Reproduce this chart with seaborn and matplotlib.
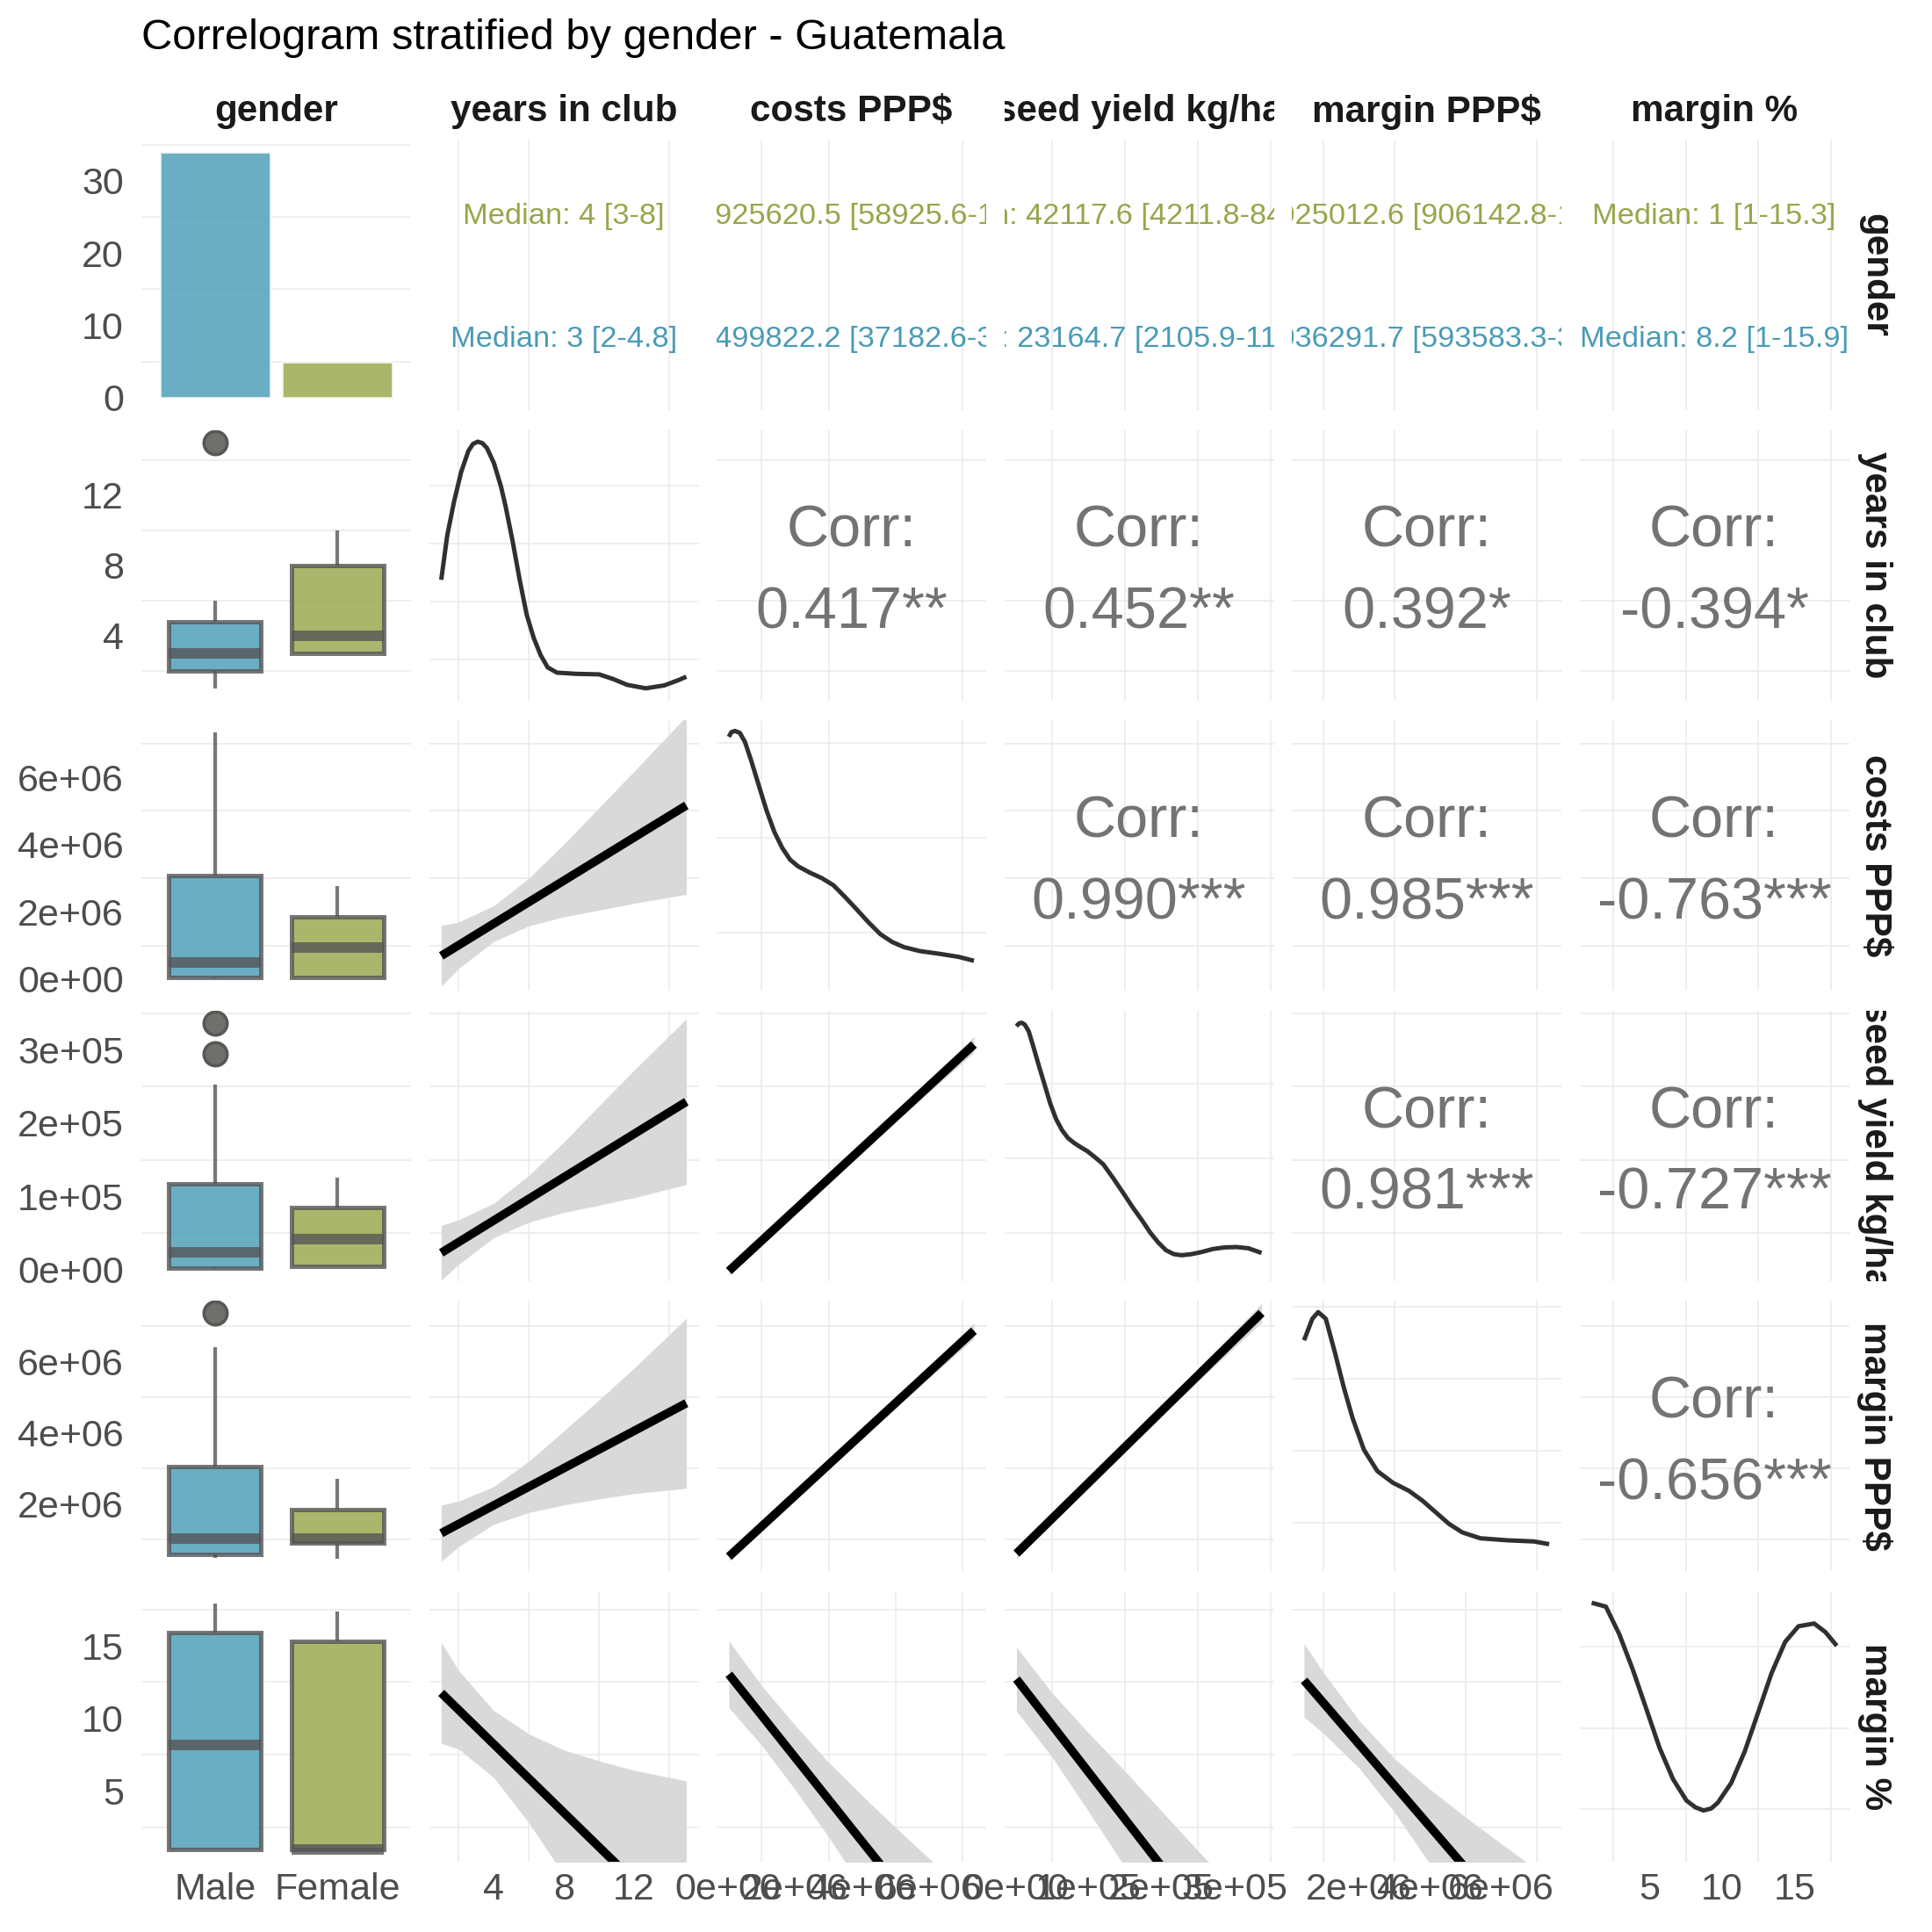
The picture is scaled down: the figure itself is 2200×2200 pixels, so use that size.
import matplotlib
matplotlib.use("Agg")
import matplotlib.pyplot as plt
import matplotlib.transforms as mtransforms
from matplotlib.ticker import MultipleLocator, NullLocator
import numpy as np
import seaborn as sns

# ------------------------------------------------------------------ data
TITLE = "Correlogram stratified by gender - Guatemala"
VAR_LABELS = ["gender", "years in club", "costs PPP$", "seed yield kg/ha",
              "margin PPP$", "margin %"]
GENDERS = ["Male", "Female"]
GENDER_COUNTS = [34, 5]

# continuous variables: years, costs, seed, margin PPP, margin %
VAR_MIN = [1, 18500, 1000, 450000, 1]
VAR_MAX = [15, 7330000, 337000, 7360000, 17.9]

COUNT_TICKS = [0, 10, 20, 30]
TICK_VALUES = [[4, 8, 12],
               [0, 2e6, 4e6, 6e6],
               [0, 1e5, 2e5, 3e5],
               [2e6, 4e6, 6e6],
               [5, 10, 15]]
TICK_LABELS = [["4", "8", "12"],
               ["0e+00", "2e+06", "4e+06", "6e+06"],
               ["0e+00", "1e+05", "2e+05", "3e+05"],
               ["2e+06", "4e+06", "6e+06"],
               ["5", "10", "15"]]

MEDIAN_TEXT_FEMALE = ["Median: 4 [3-8]",
                      "Median: 925620.5 [58925.6-1845204]",
                      "Median: 42117.6 [4211.8-84210.5]",
                      "Median: 1025012.6 [906142.8-1832471.0]",
                      "Median: 1 [1-15.3]"]
MEDIAN_TEXT_MALE = ["Median: 3 [2-4.8]",
                    "Median: 499822.2 [37182.6-3081457]",
                    "Median: 23164.7 [2105.9-116982.4]",
                    "Median: 1036291.7 [593583.3-3061847.2]",
                    "Median: 8.2 [1-15.9]"]

# box statistics (whisker low, q1, median, q3, whisker high)
BOX_MALE = [(1, 2, 3, 4.8, 6),
            (18500, 37182.6, 499822.2, 3081457, 7330000),
            (1000, 2105.9, 23164.7, 116982.4, 253000),
            (474000, 593583.3, 1036291.7, 3061847.2, 6400000),
            (1, 1, 8.2, 15.9, 17.9)]
BOX_FEMALE = [(3, 3, 4, 8, 10),
              (50000, 58925.6, 925620.5, 1845204, 2770000),
              (4000, 4211.8, 42117.6, 84210.5, 126000),
              (452000, 906142.8, 1025012.6, 1832471.0, 2710000),
              (1, 1, 1, 15.3, 17.35)]
FLIERS_MALE = [[15], [], [295000, 337000], [7360000], []]
FLIERS_FEMALE = [[], [], [], [], []]

# diagonal density curves (x in data units, y in density-grid units)
DENS_X = [
    np.array([1.0, 1.34, 1.74, 2.14, 2.55, 2.81, 3.08, 3.35, 3.61, 4.01, 4.41, 4.68,
              5.08, 5.48, 5.88, 6.28, 6.68, 7.08, 7.61, 8.68, 10.02, 10.82, 11.62,
              12.68, 13.74, 14.54, 15.0]),
    np.array([0.0185, 0.091, 0.206, 0.348, 0.499, 0.675, 0.909, 1.144, 1.378, 1.611,
              1.845, 2.080, 2.431, 2.783, 3.133, 3.483, 3.834, 4.185, 4.536, 4.888,
              5.239, 5.708, 6.293, 6.877, 7.33]) * 1e6,
    np.array([0.01, 0.044, 0.0815, 0.1244, 0.1782, 0.2428, 0.3126, 0.3933, 0.4738,
              0.5545, 0.6351, 0.7157, 0.7963, 0.8769, 0.9844, 1.0919, 1.1994, 1.3337,
              1.4681, 1.6025, 1.7368, 1.8443, 1.9518, 2.0593, 2.1668, 2.2744, 2.4087,
              2.5431, 2.7043, 2.8655, 3.0268, 3.1880, 3.37]) * 1e5,
    np.array([0.45, 0.684, 0.848, 1.063, 1.316, 1.568, 1.821, 2.137, 2.516, 2.957,
              3.400, 3.779, 4.158, 4.536, 4.915, 5.420, 6.178, 6.935, 7.36]) * 1e6,
    np.array([1.0, 1.98, 2.90, 3.83, 4.76, 5.68, 6.61, 7.54, 8.15, 8.71, 9.24, 9.70,
              10.62, 11.55, 12.48, 13.40, 14.34, 15.26, 16.34, 17.12, 17.9]),
]
DENS_Y = [
    [1.87, 2.63, 3.23, 3.73, 4.09, 4.21, 4.25, 4.225, 4.14, 3.88, 3.48, 3.13, 2.53,
     1.87, 1.27, 0.87, 0.57, 0.36, 0.27, 0.25, 0.24, 0.16, 0.06, 0.00, 0.05, 0.14,
     0.20],
    [2.565, 2.614, 2.627, 2.606, 2.511, 2.325, 2.055, 1.785, 1.558, 1.391, 1.267,
     1.197, 1.130, 1.073, 0.998, 0.873, 0.740, 0.604, 0.480, 0.397, 0.343, 0.301,
     0.272, 0.239, 0.198],
    [3.264, 3.301, 3.311, 3.285, 3.196, 2.987, 2.751, 2.489, 2.227, 2.018, 1.872,
     1.767, 1.704, 1.652, 1.589, 1.505, 1.416, 1.233, 1.039, 0.841, 0.657, 0.500,
     0.370, 0.265, 0.212, 0.197, 0.212, 0.239, 0.281, 0.302, 0.307, 0.291, 0.228],
    [3.038, 3.337, 3.429, 3.337, 2.875, 2.387, 1.953, 1.519, 1.222, 1.059, 0.950,
     0.815, 0.652, 0.489, 0.370, 0.289, 0.261, 0.245, 0.207],
    [3.038, 2.990, 2.653, 2.220, 1.738, 1.256, 0.871, 0.607, 0.525, 0.486, 0.510,
     0.582, 0.823, 1.209, 1.690, 2.171, 2.557, 2.749, 2.783, 2.677, 2.509],
]
DENS_LIM = [(-0.209, 4.452), (-0.119, 2.740), (-0.149, 3.473), (-0.171, 3.584),
            (-0.144, 3.179)]

# lower panels: linear fit with confidence band, (row, col) of the matrix
REG_PANELS = [(2, 1), (3, 1), (4, 1), (5, 1), (3, 2), (4, 2), (5, 2), (4, 3), (5, 3), (5, 4)]
REG_BAND_X = [
    [1, 2, 4, 6, 8, 10, 12, 15],
    [1, 2, 4, 6, 8, 10, 12, 15],
    [1, 2, 4, 6, 8, 10, 12, 15],
    [1, 2, 4, 6, 8, 10, 12, 15],
    np.array([0.0185, 1.5, 3, 5, 7.33]) * 1e6,
    np.array([0.0185, 1.5, 3, 5, 7.33]) * 1e6,
    np.array([0.0185, 1, 2, 3, 4, 5, 6, 7.33]) * 1e6,
    np.array([0.01, 0.8, 1.5, 2.5, 3.37]) * 1e5,
    np.array([0.01, 0.5, 1, 1.5, 2, 2.5, 3, 3.37]) * 1e5,
    np.array([0.45, 1, 2, 3, 4, 5, 6, 7.36]) * 1e6,
]
REG_LO = [
    np.array([-0.21, 0.32, 1.12, 1.58, 1.85, 2.05, 2.25, 2.52]) * 1e6,
    np.array([-0.146, 0.072, 0.436, 0.646, 0.780, 0.878, 0.981, 1.161]) * 1e5,
    np.array([0.39, 0.80, 1.43, 1.76, 1.97, 2.14, 2.29, 2.44]) * 1e6,
    [8.29, 7.89, 5.94, 2.84, -0.76, -4.71, -8.76, -15.09],
    np.array([-0.08, 0.577, 1.202, 2.019, 2.965]) * 1e5,
    np.array([0.40, 1.737, 3.029, 4.716, 6.648]) * 1e6,
    [10.75, 8.15, 5.10, 1.84, -1.65, -5.24, -8.88, -13.76],
    np.array([0.457, 2.116, 3.505, 5.447, 7.098]) * 1e6,
    [10.51, 7.34, 3.60, -0.23, -3.97, -7.70, -11.54, -14.43],
    [10.10, 8.97, 6.60, 3.56, 0.00, -3.77, -7.61, -12.90],
]
REG_HI = [
    np.array([1.59, 1.70, 2.18, 3.00, 4.01, 5.09, 6.17, 7.82]) * 1e6,
    np.array([0.602, 0.680, 0.906, 1.286, 1.742, 2.234, 2.721, 3.425]) * 1e5,
    np.array([1.97, 2.08, 2.49, 3.20, 4.05, 4.92, 5.81, 7.22]) * 1e6,
    [15.23, 13.29, 10.54, 8.94, 7.84, 7.09, 6.44, 5.71],
    np.array([0.04, 0.637, 1.282, 2.159, 3.185]) * 1e5,
    np.array([0.64, 1.877, 3.189, 4.976, 7.088]) * 1e6,
    [15.33, 12.25, 9.52, 6.98, 4.69, 2.50, 0.36, -2.46],
    np.array([0.757, 2.276, 3.705, 5.787, 7.638]) * 1e6,
    [14.91, 11.74, 9.00, 6.37, 3.63, 0.90, -1.74, -3.63],
    [15.14, 13.15, 9.86, 7.24, 5.14, 3.23, 1.41, -1.00],
]
# fitted values at the column variable's min and max
REG_LINE_Y = [
    [0.691e6, 5.165e6],
    [0.228e5, 2.293e5],
    [1.178e6, 4.832e6],
    [11.76, -4.69],
    [-0.02e5, 3.075e5],
    [0.520e6, 6.868e6],
    [13.04, -8.11],
    [0.607e6, 7.368e6],
    [12.71, -9.03],
    [12.62, -6.95],
]

CORR_PANELS = [(1, 2), (1, 3), (1, 4), (1, 5), (2, 3), (2, 4), (2, 5), (3, 4), (3, 5), (4, 5)]
CORR_VALUES = ["0.417**", "0.452**", "0.392*", "-0.394*", "0.990***", "0.985***",
               "-0.763***", "0.981***", "-0.727***", "-0.656***"]

# ------------------------------------------------------------------ style
MALE_COL = "#4A9BB6"
FEMALE_COL = "#96A64A"
FILL_ALPHA = 0.82
LINE_RGBA = (0.333, 0.333, 0.333, 0.8)
GRID_COL = "#ebebeb"
TICK_COL = "#4d4d4d"
CORR_COL = "#737373"
DENS_COL = "#303030"
BAND_COL = "#d9d9d9"
GRID_STEP = [4, 2e6, 1e5, 2e6, 5]

sns.set_theme(style="white")
plt.rcParams["font.family"] = ["Liberation Sans", "DejaVu Sans"]
plt.rcParams["lines.solid_capstyle"] = "butt"
plt.rcParams["lines.solid_joinstyle"] = "round"

FIG_PX = 2200
fig = plt.figure(figsize=(11, 11), dpi=200, facecolor="white")
COL_LEFT = [161 + 327.5 * j for j in range(6)]
ROW_TOP = [159 + 330.6 * i for i in range(6)]
PW, PH = 307, 308


def frac_box(l, t, w, h):
    return [l / FIG_PX, 1 - (t + h) / FIG_PX, w / FIG_PX, h / FIG_PX]


def var_lim(k):
    lo, hi = VAR_MIN[k], VAR_MAX[k]
    pad = 0.05 * (hi - lo)
    return lo - pad, hi + pad


def with_alpha(c, a):
    r, g, b = matplotlib.colors.to_rgb(c)
    return (r, g, b, a)


CAT_LIM = (-0.6, 1.6)
COUNT_LIM = (-0.05 * max(GENDER_COUNTS), 1.05 * max(GENDER_COUNTS))


def style_axis(axis, step):
    if step is None:
        axis.set_minor_locator(NullLocator())
    else:
        axis.set_minor_locator(MultipleLocator(step, offset=step / 2))
        axis.grid(True, which="minor", color=GRID_COL, linewidth=0.6)


for i in range(6):
    for j in range(6):
        ax = fig.add_axes(frac_box(COL_LEFT[j], ROW_TOP[i], PW, PH))
        ax.set_facecolor("white")

        if i == 0 and j == 0:
            sns.barplot(x=GENDERS, y=GENDER_COUNTS, hue=GENDERS,
                        palette=[MALE_COL, FEMALE_COL], width=0.9, saturation=1,
                        alpha=FILL_ALPHA, legend=False, ax=ax)
        elif i == 0:
            k = j - 1
            tr = mtransforms.blended_transform_factory(ax.transAxes, ax.transData)
            ax.text(0.5, 1, MEDIAN_TEXT_FEMALE[k], transform=tr, ha="center",
                    va="center_baseline", fontsize=12.4, color=FEMALE_COL, clip_on=True)
            ax.text(0.5, 0, MEDIAN_TEXT_MALE[k], transform=tr, ha="center",
                    va="center_baseline", fontsize=12.4, color=MALE_COL, clip_on=True)
        elif j == 0:
            k = i - 1
            stats = []
            for box, fl in ((BOX_MALE[k], FLIERS_MALE[k]), (BOX_FEMALE[k], FLIERS_FEMALE[k])):
                stats.append(dict(whislo=box[0], q1=box[1], med=box[2], q3=box[3],
                                  whishi=box[4], fliers=fl))
            bp = ax.bxp(stats, positions=[0, 1], widths=0.75, patch_artist=True,
                        showcaps=False,
                        boxprops=dict(linewidth=1.8, edgecolor=LINE_RGBA),
                        whiskerprops=dict(color=LINE_RGBA, linewidth=1.5),
                        medianprops=dict(color=LINE_RGBA, linewidth=4.3),
                        flierprops=dict(marker="o", markerfacecolor="#6f706c",
                                        markeredgecolor="#575854", markersize=9.5,
                                        markeredgewidth=1.3))
            for patch, c in zip(bp["boxes"], [MALE_COL, FEMALE_COL]):
                patch.set_facecolor(with_alpha(c, FILL_ALPHA))
        elif i == j:
            k = i - 1
            sns.lineplot(x=DENS_X[k], y=DENS_Y[k], color=DENS_COL, linewidth=1.8,
                         estimator=None, ax=ax)
        elif i > j:
            p = REG_PANELS.index((i, j))
            ax.fill_between(REG_BAND_X[p], REG_LO[p], REG_HI[p], color=BAND_COL,
                            linewidth=0, zorder=2)
            sns.lineplot(x=[VAR_MIN[j - 1], VAR_MAX[j - 1]], y=REG_LINE_Y[p],
                         color="black", linewidth=3.5, estimator=None, ax=ax, zorder=3)
        else:
            p = CORR_PANELS.index((i, j))
            ax.text(0.5, 0.567, "Corr:", transform=ax.transAxes, ha="center",
                    va="baseline", fontsize=24, color=CORR_COL)
            ax.text(0.5, 0.266, CORR_VALUES[p], transform=ax.transAxes, ha="center",
                    va="baseline", fontsize=24, color=CORR_COL)

        # limits
        ax.set_xlim(CAT_LIM if j == 0 else var_lim(j - 1))
        if i == 0:
            ax.set_ylim(COUNT_LIM if j == 0 else CAT_LIM)
        elif i == j:
            ax.set_ylim(DENS_LIM[i - 1])
        else:
            ax.set_ylim(var_lim(i - 1))

        # frame, grid
        for s in ax.spines.values():
            s.set_visible(False)
        ax.grid(False, which="major")
        ax.set_xlabel("")
        ax.set_ylabel("")
        style_axis(ax.xaxis, None if j == 0 else GRID_STEP[j - 1])
        if i == 0:
            style_axis(ax.yaxis, 10 if j == 0 else None)
        elif i == j:
            style_axis(ax.yaxis, 1)
        else:
            style_axis(ax.yaxis, GRID_STEP[i - 1])
        ax.set_axisbelow(True)
        ax.tick_params(which="both", length=0, labelbottom=False, labelleft=False)

        # tick labels
        if j == 0:
            if i == 0:
                ax.set_yticks(COUNT_TICKS, [str(v) for v in COUNT_TICKS])
            else:
                ax.set_yticks(TICK_VALUES[i - 1], TICK_LABELS[i - 1])
            ax.tick_params(axis="y", labelleft=True, labelsize=15.5,
                           labelcolor=TICK_COL, pad=7.2)
        if i == 5:
            if j == 0:
                ax.set_xticks([0, 1], GENDERS)
            else:
                ax.set_xticks(TICK_VALUES[j - 1], TICK_LABELS[j - 1])
            ax.tick_params(axis="x", labelbottom=True, labelsize=15.5,
                           labelcolor=TICK_COL, pad=4.3)

# strips
for j in range(6):
    sax = fig.add_axes(frac_box(COL_LEFT[j], 100, PW, 54))
    sax.axis("off")
    sax.text(0.5, 0.5, VAR_LABELS[j], transform=sax.transAxes, ha="center",
             va="center", fontsize=15.2, fontweight="bold", color="#1a1a1a",
             clip_on=True)
for i in range(6):
    sax = fig.add_axes(frac_box(2112, ROW_TOP[i], 46, PH))
    sax.axis("off")
    sax.text(0.5, 0.5, VAR_LABELS[i], transform=sax.transAxes, ha="center",
             va="center", rotation=-90, fontsize=15.2, fontweight="bold",
             color="#1a1a1a", clip_on=True)

fig.text(161 / FIG_PX, 1 - 43.5 / FIG_PX, TITLE, ha="left", va="center",
         fontsize=17.6, color="black")

fig.savefig("out.png", dpi=200, facecolor="white")
